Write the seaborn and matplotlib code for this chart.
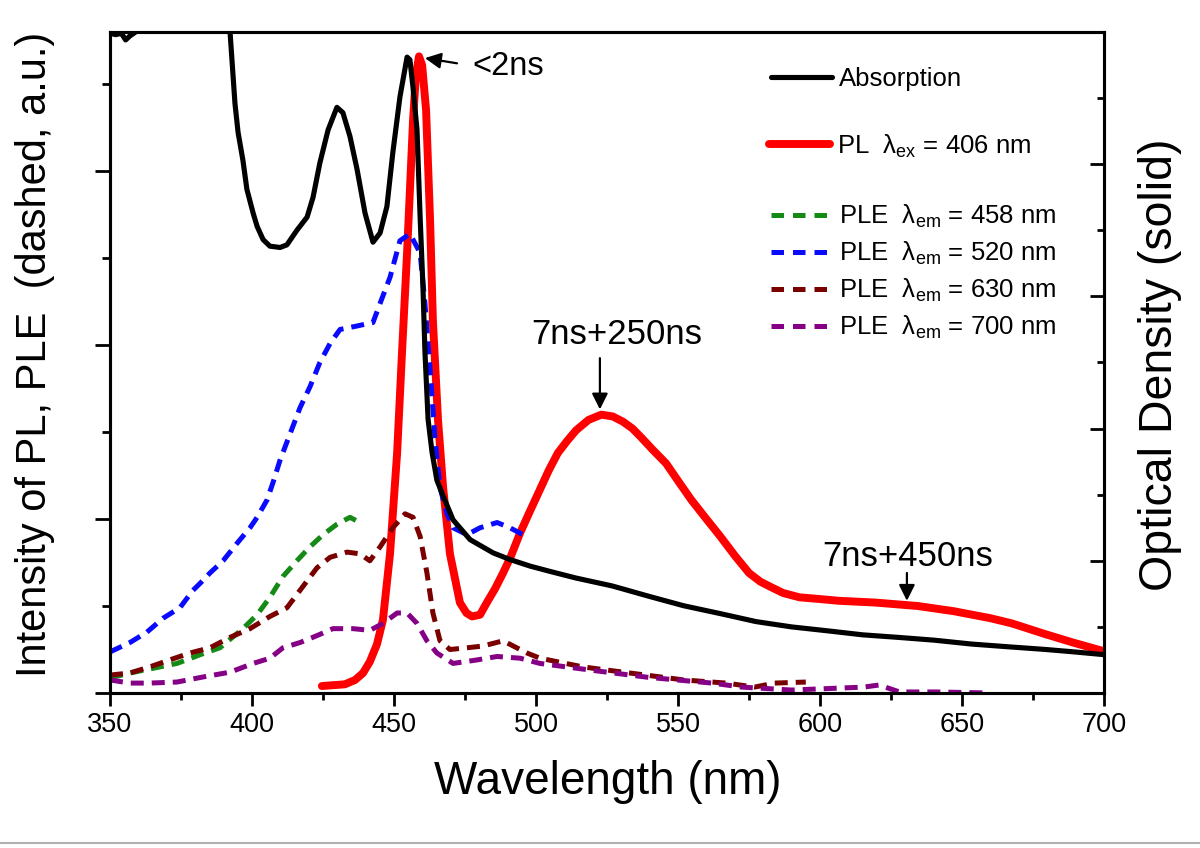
import matplotlib
matplotlib.use("Agg")
import matplotlib.pyplot as plt
import seaborn as sns
import pandas as pd
from matplotlib import font_manager
from matplotlib.lines import Line2D
from matplotlib.ticker import MultipleLocator

# ---------------- data ----------------
abs_wl = [350, 352, 354, 355.5, 357, 359, 361, 375, 389, 391, 392.3, 394.0, 395.1,
          396.8, 398.2, 400.4, 401.8, 403.9, 406.3, 409.9, 412.3, 415.8, 419.4, 421.5,
          423.9, 426.8, 429.9, 432.0, 434.5, 437.0, 439.8, 442.6, 445.1, 447.5, 449.6,
          452.1, 454.6, 455.6, 456.7, 458.1, 459.2, 460.2, 460.9, 462.0, 463.4, 465.1,
          467.3, 470.8, 476.8, 484.9, 490.8, 497.9, 504.9, 514, 526.8, 540, 552, 565,
          577.5, 590, 602.8, 615, 628, 640, 653.5, 666, 679, 690, 700]
abs_od = [4.99, 4.98, 4.99, 4.94, 4.97, 5.0, 5.2, 5.4, 5.2, 5.03, 4.99, 4.46, 4.24,
          4.03, 3.81, 3.63, 3.53, 3.43, 3.38, 3.37, 3.39, 3.50, 3.60, 3.75,
          4.01, 4.26, 4.43, 4.39, 4.21, 3.96, 3.63, 3.41, 3.48, 3.68, 4.09,
          4.51, 4.81, 4.79, 4.58, 4.26, 3.60, 3.07, 2.58, 2.07, 1.82, 1.61,
          1.49, 1.31, 1.16, 1.06, 1.01, 0.96, 0.92, 0.87, 0.81, 0.73, 0.66, 0.60,
          0.54, 0.50, 0.47, 0.44, 0.42, 0.40, 0.37, 0.35, 0.33, 0.31, 0.29]

pl_wl = [424.6, 432.7, 436.3, 439.1, 441.5, 444.0, 446.1, 448.6, 451.1, 452.8, 454.6,
         455.6, 456.7, 457.7, 458.8, 459.9, 461.3, 462.7, 463.7, 465.5, 467.3, 469.7,
         473.2, 475.5, 477.5, 480.3, 482.7, 485.6, 488.4, 491.0, 494.4, 498.0, 501.4,
         504.5, 507.7, 511.0, 514.1, 518.5, 523.0, 527.0, 530.6, 534.0, 537.0, 541.0,
         545.8, 550.0, 554.7, 560.0, 564.9, 570.0, 575.0, 579.0, 582.6, 587.0, 592.8,
         600.0, 606.7, 619.4, 634.5, 647.2, 660.0, 667.6, 679.0, 689.1, 700]
pl_int = [0.04, 0.05, 0.075, 0.115, 0.18, 0.28, 0.42, 0.80, 1.38, 1.95, 2.53,
          2.89, 3.29, 3.55, 3.66, 3.61, 3.35, 2.72, 2.14, 1.57, 1.18, 0.80,
          0.52, 0.46, 0.44, 0.45, 0.52, 0.60, 0.69, 0.78, 0.92, 1.05, 1.17,
          1.28, 1.38, 1.45, 1.51, 1.57, 1.60, 1.59, 1.56, 1.52, 1.47, 1.40,
          1.32, 1.22, 1.11, 1.00, 0.90, 0.79, 0.69, 0.64, 0.61, 0.575, 0.55,
          0.54, 0.53, 0.52, 0.50, 0.47, 0.43, 0.40, 0.34, 0.29, 0.24]

ple458_wl = [350, 357, 364, 373.6, 381.7, 388.7, 396.8, 401.8, 406.3, 410.9, 415.8,
             420.4, 425.0, 429.9, 434.5, 438.0]
ple458_int = [0.086, 0.115, 0.138, 0.17, 0.22, 0.26, 0.37, 0.45, 0.55, 0.67, 0.76,
              0.84, 0.91, 0.97, 1.01, 0.98]

ple520_wl = [350, 357, 363, 368.7, 374.6, 379.2, 381.7, 385.2, 389.8, 394.7, 399.3,
             401.8, 405.3, 407.4, 409.9, 413.4, 416.9, 420.4, 423.9, 427.5, 431.0,
             437.0, 442.6, 445.1, 448.6, 452.1, 455.6, 459.2, 460.9, 462.7, 464.4,
             466.2, 468.7, 470.8, 475.7, 480.3, 486.3, 490.8, 495.4]
ple520_int = [0.236, 0.29, 0.35, 0.43, 0.49, 0.59, 0.63, 0.69, 0.76, 0.86, 0.95,
              1.01, 1.11, 1.21, 1.34, 1.49, 1.64, 1.76, 1.90, 2.01, 2.09,
              2.11, 2.13, 2.24, 2.39, 2.60, 2.64, 2.53, 2.24, 1.86, 1.47,
              1.18, 1.03, 0.95, 0.91, 0.95, 0.98, 0.95, 0.91]

ple630_wl = [350, 357, 364, 371, 378.2, 385.2, 392.3, 399.3, 406.3, 412.3, 416.9,
             422.9, 427.5, 433.5, 438.0, 441.5, 445.1, 449.6, 453.9, 456.7, 459.2,
             461.6, 463.7, 466.2, 469.7, 475.7, 481.3, 488.4, 490.8, 496.8, 501.4,
             516.5, 533, 552, 567, 577, 584, 595]
ple630_int = [0.103, 0.115, 0.15, 0.19, 0.23, 0.26, 0.32, 0.37, 0.44, 0.49, 0.59,
              0.72, 0.78, 0.81, 0.80, 0.76, 0.84, 0.95, 1.03, 1.01, 0.90,
              0.69, 0.46, 0.30, 0.25, 0.26, 0.27, 0.30, 0.28, 0.23, 0.20,
              0.15, 0.115, 0.075, 0.057, 0.034, 0.057, 0.063]

ple700_wl = [350, 357, 364, 373.6, 382.7, 392.3, 400.4, 406.3, 410.9, 416.9, 422.9,
             428.5, 435.6, 441.5, 446.1, 451.1, 454.6, 458.1, 461.6, 465.1, 470.8,
             479.2, 486.3, 494.4, 501.4, 520, 539.5, 562, 572.5, 590, 615.5, 620.8,
             628, 641, 660]
ple700_int = [0.075, 0.057, 0.057, 0.063, 0.092, 0.12, 0.17, 0.20, 0.26, 0.29, 0.33,
              0.37, 0.37, 0.36, 0.40, 0.46, 0.46, 0.40, 0.30, 0.23, 0.17,
              0.19, 0.21, 0.20, 0.17, 0.13, 0.09, 0.057, 0.034, 0.017, 0.034, 0.046,
              0.006, 0.006, 0.0]

legend_labels = ["Absorption",
                 r"PL  $\mathregular{\lambda_{ex}}$ = 406 nm",
                 r"PLE  $\mathregular{\lambda_{em}}$ = 458 nm",
                 r"PLE  $\mathregular{\lambda_{em}}$ = 520 nm",
                 r"PLE  $\mathregular{\lambda_{em}}$ = 630 nm",
                 r"PLE  $\mathregular{\lambda_{em}}$ = 700 nm"]
ple_colors = ["#168a16", "#0a0aff", "#7a0000", "#860086"]
xticks = [350, 400, 450, 500, 550, 600, 650, 700]

# ---------------- style ----------------
sns.set_style("ticks")
plt.rcParams["font.family"] = ["Liberation Sans", "DejaVu Sans"]
plt.rcParams["mathtext.fontset"] = "custom"
plt.rcParams["mathtext.rm"] = "Liberation Sans"
plt.rcParams["mathtext.it"] = "Liberation Sans:italic"
for k in ["text.color", "axes.labelcolor", "xtick.color", "ytick.color",
          "axes.edgecolor"]:
    plt.rcParams[k] = "black"

try:
    font_manager.findfont(font_manager.FontProperties(family="Liberation Sans Narrow"),
                          fallback_to_default=False)
    tick_family, tick_size = "Liberation Sans Narrow", 22
except Exception:
    tick_family, tick_size = "Liberation Sans", 19.5

fig = plt.figure(figsize=(12, 8.48), dpi=100)
ax = fig.add_axes([110 / 1200, 1 - 693 / 848, 994 / 1200, 661 / 848])
ax2 = ax.twinx()

df_pl = pd.DataFrame({"wl": pl_wl, "v": pl_int})
sns.lineplot(data=df_pl, x="wl", y="v", ax=ax, color="#ff0000", linewidth=5.7,
             estimator=None, sort=False, zorder=2)
dash = (0, (2.6, 1.6))
for wl, val, col in [(ple458_wl, ple458_int, ple_colors[0]),
                     (ple520_wl, ple520_int, ple_colors[1]),
                     (ple630_wl, ple630_int, ple_colors[2]),
                     (ple700_wl, ple700_int, ple_colors[3])]:
    d = pd.DataFrame({"wl": wl, "v": val})
    sns.lineplot(data=d, x="wl", y="v", ax=ax, color=col, linewidth=3.6,
                 linestyle=dash, estimator=None, sort=False, zorder=3)

df_abs = pd.DataFrame({"wl": abs_wl, "od": abs_od})
sns.lineplot(data=df_abs, x="wl", y="od", ax=ax2, color="black", linewidth=3.7,
             estimator=None, sort=False)

ax.set_xlim(350, 700)
ax.set_ylim(0, 3.8)
ax2.set_ylim(0, 5)

for a in (ax, ax2):
    for s in a.spines.values():
        s.set_linewidth(2.2)
        s.set_color("black")

ax.set_xticks(xticks)
ax.xaxis.set_minor_locator(MultipleLocator(25))
ax.yaxis.set_major_locator(MultipleLocator(1))
ax.yaxis.set_minor_locator(MultipleLocator(0.5))
ax.tick_params(axis="x", which="major", direction="out", length=9.5, width=2,
               pad=4, labelsize=tick_size, labelcolor="black")
ax.tick_params(axis="x", which="minor", direction="out", length=5, width=2)
ax.tick_params(axis="y", which="major", direction="out", length=11, width=2,
               labelleft=False, right=False)
ax.tick_params(axis="y", which="minor", direction="out", length=6, width=2,
               right=False)
ax.tick_params(top=False, which="both")
for lab in ax.get_xticklabels():
    lab.set_family(tick_family)

ax2.yaxis.set_major_locator(MultipleLocator(1))
ax2.yaxis.set_minor_locator(MultipleLocator(0.5))
ax2.tick_params(axis="y", which="major", direction="in", length=10, width=2,
                labelright=False, left=False)
ax2.tick_params(axis="y", which="minor", direction="in", length=5, width=2, left=False)
ax2.set_ylabel("")

ax.set_xlabel("Wavelength (nm)", fontsize=33, color="black")
ax.xaxis.set_label_coords(0.5005, -0.1346)
ax.xaxis.label.set_va("center")
ax.set_ylabel("Intensity of PL, PLE  (dashed, a.u.)", fontsize=30, color="black")
ax.yaxis.set_label_coords(-0.0755, 0.513)
ax.yaxis.label.set_va("center")
ax2.set_ylabel("Optical Density (solid)", fontsize=33.5, rotation=90, color="black")
ax2.yaxis.set_label_coords(1.0563, 0.496)
ax2.yaxis.label.set_va("center")

# annotations
arrow = dict(arrowstyle="-|>", color="black", lw=1.6, mutation_scale=24,
             shrinkA=0, shrinkB=0)
ax.annotate("", xy=(460.9, 3.65), xytext=(472.2, 3.62), arrowprops=arrow)
ax.text(490.1, 3.60, "<2ns", fontsize=23.5, ha="center", va="center")
ax.annotate("", xy=(522.5, 1.63), xytext=(522.5, 1.925), arrowprops=arrow)
ax.text(528.5, 2.063, "7ns+250ns", fontsize=25, ha="center", va="center")
ax.annotate("", xy=(630.6, 0.53), xytext=(630.6, 0.69), arrowprops=arrow)
ax.text(631.0, 0.787, "7ns+450ns", fontsize=25, ha="center", va="center")

# legends
leg_kw = dict(frameon=False, fontsize=18.5, handlelength=2.37, handletextpad=0.27,
              borderpad=0, borderaxespad=0, loc="center left")
h_abs = [Line2D([], [], color="black", lw=3.7)]
h_pl = [Line2D([], [], color="#ff0000", lw=5.7, solid_capstyle="round")]
h_ple = [Line2D([], [], color=c, lw=3.6, linestyle=(0, (2.5, 1.8))) for c in ple_colors]
fig.legend(h_abs, legend_labels[:1], bbox_to_anchor=(771 / 1200, 1 - 79 / 848), **leg_kw)
fig.legend(h_pl, legend_labels[1:2], bbox_to_anchor=(769 / 1200, 1 - 146 / 848), **leg_kw)
fig.legend(h_ple, legend_labels[2:], bbox_to_anchor=(771 / 1200, 1 - 272 / 848),
           labelspacing=0.39, **leg_kw)

fig.add_artist(Line2D([0, 1], [0.006, 0.006], transform=fig.transFigure,
                      color="#b0b0b0", lw=1.5))

fig.savefig("out.png", dpi=100)
